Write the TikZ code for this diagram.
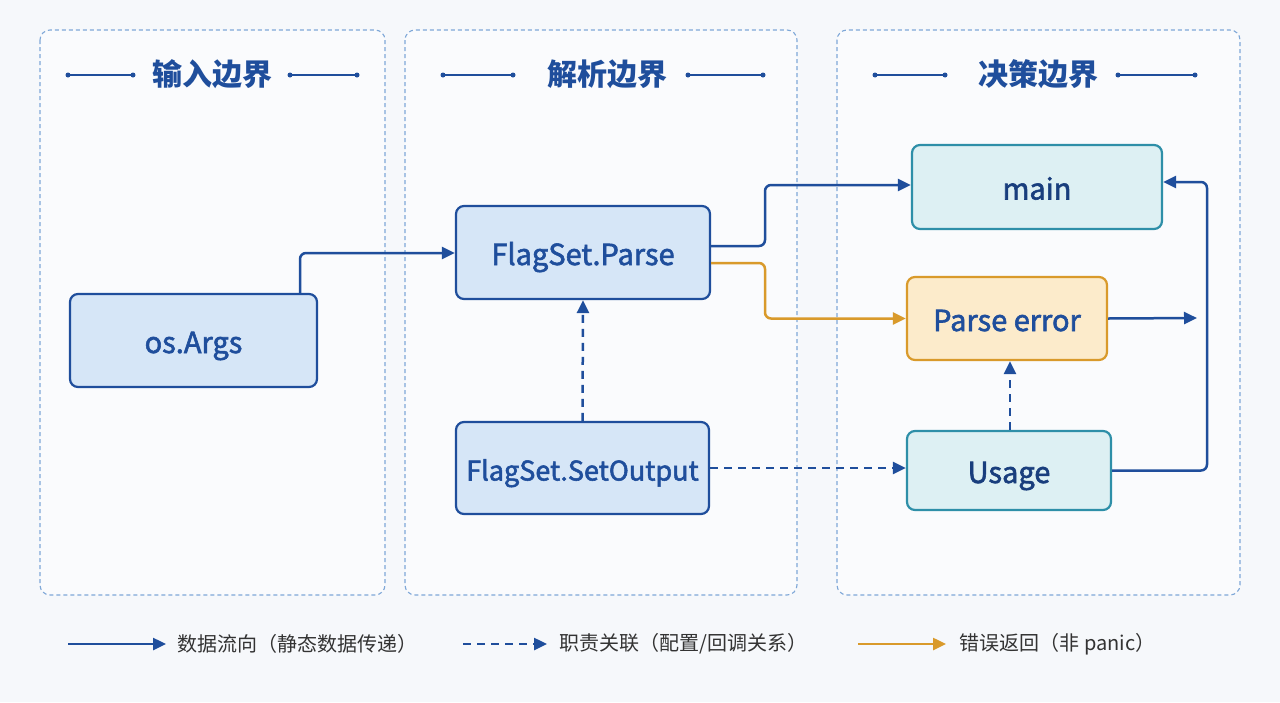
\documentclass[tikz,border=0pt]{standalone}
\usepackage{fontspec}
\setmainfont{Noto Sans CJK SC}
\newfontfamily\medf{Noto Sans CJK SC}[FakeBold=2]
\usetikzlibrary{arrows.meta}
\definecolor{dblue}{HTML}{1F4E9C}
\definecolor{lblue}{HTML}{D6E6F7}
\definecolor{pblue}{HTML}{7FA8D8}
\definecolor{teal}{HTML}{2E8FA8}
\definecolor{lteal}{HTML}{DDF0F3}
\definecolor{orng}{HTML}{D99A2B}
\definecolor{lorng}{HTML}{FCEBCB}
\definecolor{bg}{HTML}{F6F8FB}
\begin{document}
\begin{tikzpicture}[x=1pt,y=-1pt,
 panel/.style={draw=pblue,dashed,line width=1.1pt,dash pattern=on 4pt off 3pt,rounded corners=10pt,fill=white!40!bg},
 box/.style={draw=dblue,line width=2.2pt,rounded corners=8pt,fill=lblue,text=dblue,font=\medf\fontsize{29}{32}\selectfont,inner sep=0pt,text depth=0pt,text height=25pt},
 tbox/.style={box,draw=teal,fill=lteal,text=dblue!80!black},
 obox/.style={box,draw=orng,fill=lorng},
 title/.style={text=dblue,font=\fontsize{30}{34}\selectfont\bfseries},
 tline/.style={draw=dblue,line width=1.2pt},
 flow/.style={draw=dblue,line width=2.5pt,rounded corners=6pt,-{Triangle[length=13pt,width=12pt]}},
 rel/.style={flow,dash pattern=on 8pt off 6pt},
 err/.style={flow,draw=orng},
 leg/.style={anchor=west,text=black!80,font=\fontsize{20}{24}\selectfont}]
\fill[bg] (0,0) rectangle (1280,702);
\useasboundingbox (0,0) rectangle (1280,702);
\draw[panel] (40,30) rectangle (385,595);
\draw[panel] (405,30) rectangle (797,595);
\draw[panel] (837,30) rectangle (1240,595);
\node[title] (t1) at (212,74) {输入边界};
\node[title] (t2) at (607,74) {解析边界};
\node[title] (t3) at (1038,74) {决策边界};
\foreach \a/\b in {68/133,290/357,443/513,688/763,875/945,1118/1195}{
 \draw[tline] (\a,75) -- (\b,75);
 \fill[dblue] (\a,75) circle (2.5pt) (\b,75) circle (2.5pt);}
\node[box,minimum width=247pt,minimum height=93pt] (args) at (193.5,340.5) {os.Args};
\node[box,minimum width=254pt,minimum height=93pt] (parse) at (583,252.5) {FlagSet.Parse};
\node[box,minimum width=253pt,minimum height=92pt,font=\medf\fontsize{27}{30}\selectfont] (setout) at (582.5,468) {FlagSet.SetOutput};
\node[tbox,minimum width=250pt,minimum height=84pt] (main) at (1037,187) {main};
\node[obox,minimum width=200pt,minimum height=83pt] (perr) at (1007,318.5) {Parse error};
\node[tbox,minimum width=204pt,minimum height=79pt] (usage) at (1009,470.5) {Usage};
\coordinate (eout) at (1197,318);
\draw[flow] (args.north -| 300,0) |- (parse.west |- 0,253);
\draw[flow] (parse.east |- 0,246) -| (765,215) |- (main.west |- 0,185);
\draw[err] (parse.east |- 0,263) -| (765,290) |- (perr.west);
\draw[rel] (setout.north) -- (parse.south);
\draw[rel] (setout.east) -- (usage.west |- setout.east);
\draw[rel] (usage.north -| 1010,0) -- (perr.south -| 1010,0);
\draw[flow] (perr.east) -- (eout);
\draw[flow] (usage.east) -| (1207,250) |- (main.east |- 0,182);
\coordinate (l1a) at (68,644); \coordinate (l1b) at (166,644);
\coordinate (l2a) at (463,644); \coordinate (l2b) at (547,644);
\coordinate (l3a) at (858,644); \coordinate (l3b) at (946,644);
\draw[flow] (l1a) -- (l1b);
\draw[rel] (l2a) -- (l2b);
\draw[err] (l3a) -- (l3b);
\node[leg] (lt1) at (174,644) {数据流向（静态数据传递）};
\node[leg] (lt2) at (556,644) {职责关联（配置/回调关系）};
\node[leg] (lt3) at (956,644) {错误返回（非 panic）};
\end{tikzpicture}
\end{document}
